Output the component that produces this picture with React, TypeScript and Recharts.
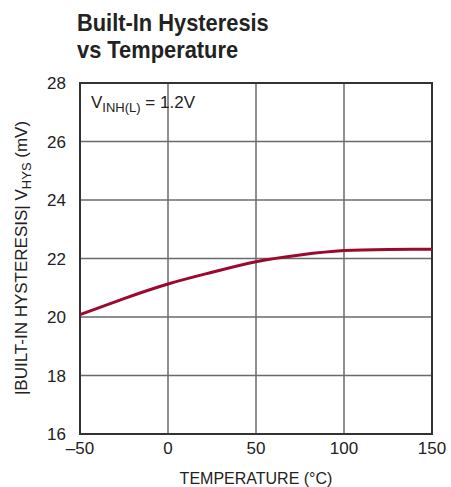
import React from "react";
import {
  LineChart,
  Line,
  XAxis,
  YAxis,
  CartesianGrid,
  ReferenceArea,
} from "recharts";

const temperatures = [-50, -25, 0, 25, 50, 75, 100, 125, 150];
const hysteresis = [20.08, 20.63, 21.13, 21.53, 21.89, 22.12, 22.27, 22.31, 22.32];
const xTicks = [-50, 0, 50, 100, 150];
const yTicks = [16, 18, 20, 22, 24, 26, 28];

const data = temperatures.map((t, i) => ({ t, v: hysteresis[i] }));

const FONT = "'Liberation Sans Narrow', 'Arial Narrow', 'Liberation Sans', sans-serif";

const fmtX = (v: number) => (v < 0 ? "\u2013" + Math.abs(v) : String(v));

const titleStyle: React.CSSProperties = {
  position: "absolute",
  left: 77,
  fontSize: 24,
  fontWeight: "bold",
  lineHeight: "26px",
  height: 26,
  color: "#222",
  whiteSpace: "nowrap",
  transform: "scaleX(0.91)",
  transformOrigin: "left top",
};

export default function App() {
  return (
    <div style={{ position: "absolute", left: 0, top: 0, width: 451, height: 487, background: "#fff", fontFamily: FONT }}>
      <div style={{ ...titleStyle, top: 10 }}>Built-In Hysteresis</div>
      <div style={{ ...titleStyle, top: 37 }}>vs Temperature</div>
      <LineChart
        width={451}
        height={487}
        data={data}
        margin={{ top: 83, right: 19, bottom: 0, left: 20 }}
      >
        <CartesianGrid stroke="#6a6a6a" strokeWidth={1.5} />
        <XAxis
          type="number"
          dataKey="t"
          domain={[-50, 150]}
          ticks={xTicks}
          tickFormatter={fmtX}
          axisLine={false}
          tickLine={false}
          tick={{ fontSize: 17, fill: "#222", fontFamily: FONT }}
          tickMargin={2}
          height={53}
          label={{
            value: "TEMPERATURE (\u00B0C)",
            position: "insideBottom",
            offset: 3,
            fontSize: 16,
            fill: "#222",
            fontFamily: FONT,
          }}
        />
        <YAxis
          type="number"
          domain={[16, 28]}
          ticks={yTicks}
          axisLine={false}
          tickLine={false}
          width={60}
          tick={{ fontSize: 17, fill: "#222", fontFamily: FONT }}
          tickMargin={8}
        />
        <ReferenceArea x1={-50} x2={150} y1={16} y2={28} fill="none" stroke="#333" strokeWidth={2} ifOverflow="visible" />
        <Line
          type="natural"
          dataKey="v"
          stroke="#990a2c"
          strokeWidth={3}
          dot={false}
          isAnimationActive={false}
        />
      </LineChart>
      <svg
        width={451}
        height={487}
        style={{ position: "absolute", left: 0, top: 0, pointerEvents: "none" }}
      >
        <text
          transform="translate(27,258) rotate(-90)"
          textAnchor="middle"
          fontSize={17}
          fill="#222"
          fontFamily={FONT}
        >
          |BUILT-IN HYSTERESIS| V
          <tspan fontSize={13} dy={4}>HYS</tspan>
          <tspan dy={-4}> (mV)</tspan>
        </text>
        <text x={91} y={108} fontSize={17} fill="#222" fontFamily={FONT}>
          V<tspan fontSize={13} dy={4}>INH(L)</tspan>
          <tspan dy={-4}> = 1.2V</tspan>
        </text>
      </svg>
    </div>
  );
}
